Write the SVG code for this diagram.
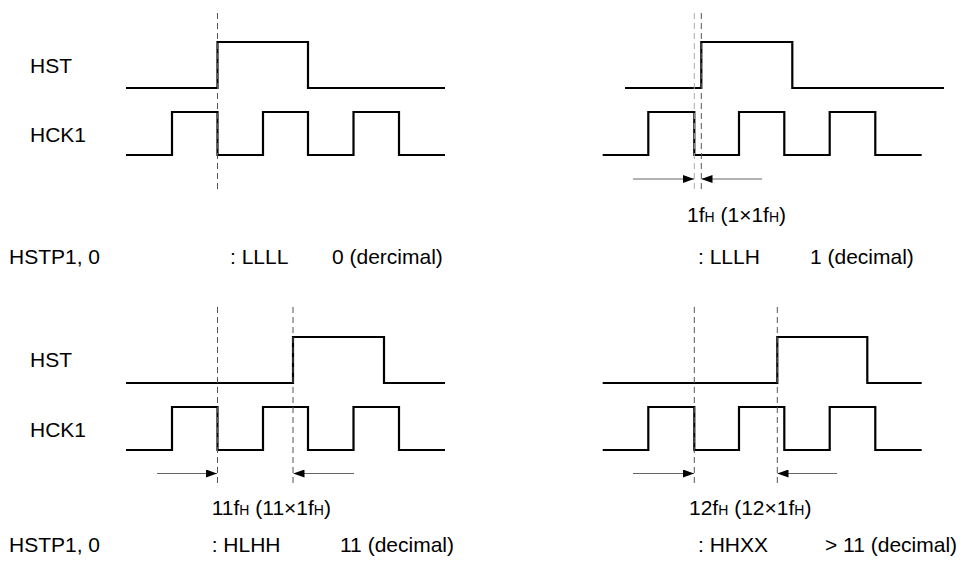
<svg xmlns="http://www.w3.org/2000/svg" width="962" height="563" viewBox="0 0 962 563">
<style>
.w{fill:none;stroke:#000;stroke-width:2.2;stroke-linejoin:miter;stroke-linecap:butt}
.d{fill:none;stroke:#555;stroke-width:1;stroke-dasharray:6,4}
.dl{fill:none;stroke:#aaa;stroke-width:1;stroke-dasharray:6,4}
.a{fill:none;stroke:#666;stroke-width:1;marker-end:url(#ah)}
text{font-family:"Liberation Sans",Arial,sans-serif;font-size:21px;fill:#000}
.s{font-size:14px}
</style>
<defs>
<marker id="ah" markerWidth="11" markerHeight="8" refX="11" refY="4" orient="auto" markerUnits="userSpaceOnUse">
<path d="M0,0 L11,4 L0,8 Z" fill="#000"/>
</marker>
</defs>
<rect width="962" height="563" fill="#fff"/>
<g id="panel-top-left">
<text x="30" y="73">HST</text>
<text x="30" y="142">HCK1</text>
<path class="w" d="M126,88 H217.5 V42 H308 V88 H445"/>
<path class="w" d="M126,155 H172 V112 H217.5 V155 H263 V112 H308 V155 H353.5 V112 H399 V155 H445"/>
<text x="9" y="264">HSTP1, 0</text>
<text x="230" y="264">: LLLL</text>
<text x="332" y="264">0 (dercimal)</text>
</g>
<g id="panel-top-right">
<path class="w" d="M625,88 H701.3 V42 H792.3 V88 H944"/>
<path class="w" d="M602.7,155 H648.3 V112 H694.3 V155 H739 V112 H784.3 V155 H829.7 V112 H875.3 V155 H921.7"/>
<text x="687" y="222">1f<tspan class="s">H</tspan> (1×1f<tspan class="s">H</tspan>)</text>
<text x="698" y="264">: LLLH</text>
<text x="810" y="264">1 (decimal)</text>
</g>
<g id="panel-bottom-left">
<text x="30" y="367">HST</text>
<text x="30" y="437">HCK1</text>
<path class="w" d="M126,383 H293 V337 H384 V383 H445"/>
<path class="w" d="M126,450 H172 V407 H217.5 V450 H263 V407 H308 V450 H353.5 V407 H399 V450 H445"/>
<text x="211.7" y="515">11f<tspan class="s">H</tspan> (11×1f<tspan class="s">H</tspan>)</text>
<text x="9" y="552">HSTP1, 0</text>
<text x="211.7" y="552">: HLHH</text>
<text x="340" y="552">11 (decimal)</text>
</g>
<g id="panel-bottom-right">
<path class="w" d="M602.7,383 H777.3 V337 H867.3 V383 H921.7"/>
<path class="w" d="M602.7,450 H648.3 V407 H694.3 V450 H739 V407 H784.3 V450 H829.7 V407 H875.3 V450 H921.7"/>
<text x="689" y="515">12f<tspan class="s">H</tspan> (12×1f<tspan class="s">H</tspan>)</text>
<text x="698" y="552">: HHXX</text>
<text x="825" y="552">&gt; 11 (decimal)</text>
</g>
<g id="connectors">
<line class="d" x1="217.5" y1="13" x2="217.5" y2="193"/>
<line class="dl" x1="694.3" y1="13" x2="694.3" y2="193"/>
<line class="d" x1="701.3" y1="13" x2="701.3" y2="193"/>
<line class="d" x1="217.5" y1="307" x2="217.5" y2="487"/>
<line class="d" x1="293" y1="307" x2="293" y2="487"/>
<line class="d" x1="694.3" y1="307" x2="694.3" y2="487"/>
<line class="d" x1="777.3" y1="307" x2="777.3" y2="487"/>
<line class="a" x1="633" y1="179" x2="694" y2="179"/>
<line class="a" x1="762" y1="179" x2="701.5" y2="179"/>
<line class="a" x1="157" y1="473.5" x2="217" y2="473.5"/>
<line class="a" x1="354" y1="473.5" x2="293.5" y2="473.5"/>
<line class="a" x1="633" y1="473.5" x2="694" y2="473.5"/>
<line class="a" x1="837" y1="473.5" x2="777.5" y2="473.5"/>
</g>
</svg>
